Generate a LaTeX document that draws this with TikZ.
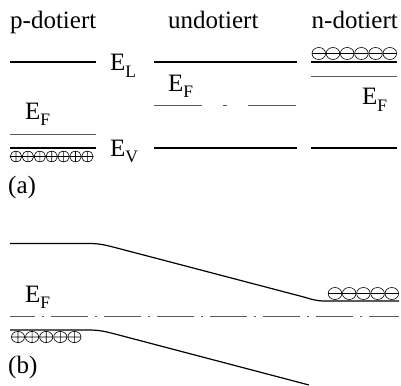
\documentclass[tikz,border=0pt]{standalone}
\usepackage{fontspec}
\setmainfont{Liberation Serif}
\newcommand{\lvl}[1]{E\raisebox{-6pt}{\fontsize{17.5}{18}\selectfont #1}}

\begin{document}
\begin{tikzpicture}[x=1pt,y=-1pt,
  band/.style={line width=1.2pt},
  fermi/.style={line width=0.8pt,black!65},
  lbl/.style={anchor=base west,inner sep=0pt,font=\fontsize{25}{30}\selectfont},
  carrier/.style={line width=0.6pt}]
  \useasboundingbox (0,0) rectangle (401,385);
  \node[lbl] (ptitle) at (10,29) {p-dotiert};
  \node[lbl] (utitle) at (168,29) {undotiert};
  \node[lbl] (ntitle) at (311.5,29) {n-dotiert};
  \node[lbl] (elabel) at (110,71) {\lvl{L}};
  \node[lbl] (vlabel) at (110,156) {\lvl{V}};
  \node[lbl] (pfermi) at (25,119) {\lvl{F}};
  \node[lbl] (ufermi) at (168,92) {\lvl{F}};
  \node[lbl] (nfermi) at (362,105) {\lvl{F}};
  \node[lbl] (alabel) at (8,193) {(a)};
  \draw[band] (10,62) -- (96,62);
  \draw[band] (154,62) -- (297,62);
  \draw[band] (311,62) -- (397,62);
  \draw[fermi] (10,134) -- (96,134);
  \draw[fermi,dash pattern=on 48pt off 21pt on 4pt off 21pt] (154,105) -- (297,105);
  \draw[fermi] (311,76) -- (397,76);
  \draw[band] (10,148) -- (96,148);
  \draw[band] (154,148) -- (297,148);
  \draw[band] (311,148) -- (397,148);
  \foreach \i in {0,...,6}
    \draw[carrier] ({16+11.9*\i},156.5) ellipse[x radius=5.8,y radius=5.3]
      +(-5.8,0) -- +(5.8,0) +(0,-5.3) -- +(0,5.3);
  \foreach \i in {0,...,5}
    \draw[carrier] ({318.8+14.2*\i},53.5) ellipse[x radius=6.8,y radius=6]
      +(-6.8,0) -- +(6.8,0);

  \node[lbl] (bfermi) at (25,302) {\lvl{F}};
  \node[lbl] (blabel) at (8,373) {(b)};
  \draw[band] (10,243.5) -- (88,243.5) .. controls (100,243.5) and (105,245) .. (115,247.5)
    -- (300,296) .. controls (310,298.6) and (315,301) .. (325,301) -- (399,301);
  \draw[band] (10,330) -- (88,330) .. controls (100,330) and (105,331.5) .. (115,334)
    -- (309,385);
  \draw[fermi,dash pattern=on 37pt off 7pt on 2pt off 7pt,dash phase=12pt] (10,316) -- (399,316);
  \foreach \i in {0,...,4}
    \draw[carrier] ({18+14.1*\i},337) ellipse[x radius=6.6,y radius=5.6]
      +(-6.6,0) -- +(6.6,0) +(0,-5.6) -- +(0,5.6);
  \foreach \i in {0,...,4}
    \draw[carrier] ({335+14.2*\i},293.5) ellipse[x radius=6.8,y radius=6]
      +(-6.8,0) -- +(6.8,0);
\end{tikzpicture}
\end{document}
